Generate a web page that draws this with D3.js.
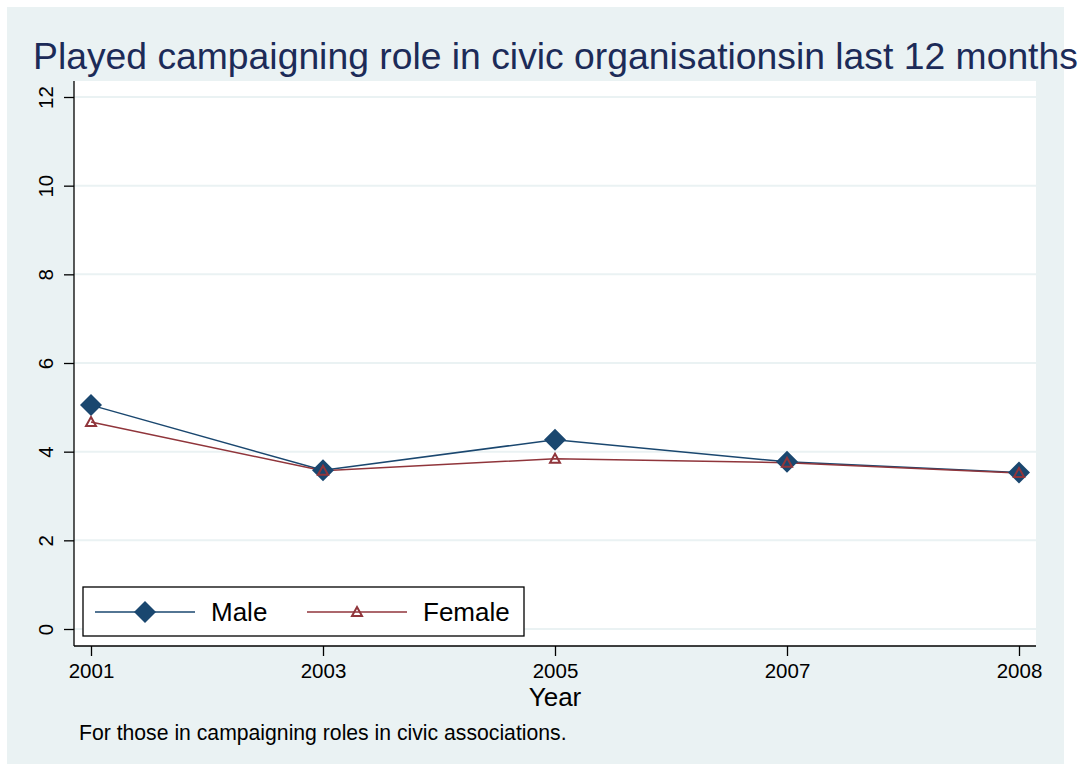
<!DOCTYPE html>
<html>
<head>
<meta charset="utf-8">
<script src="https://cdn.jsdelivr.net/npm/d3@7"></script>
<style>
  body { margin: 0; background: #fff; }
  text { font-family: "Liberation Sans", Arial, sans-serif; }
</style>
</head>
<body>
<div id="chart"></div>
<script>
let width = 1081,
    height = 771;

// data
let years = ["2001", "2003", "2005", "2007", "2008"];
let maleVals = [5.05, 3.58, 4.27, 3.77, 3.53];
let femaleVals = [4.67, 3.57, 3.84, 3.75, 3.52];
let yTicks = [0, 2, 4, 6, 8, 10, 12];

let male = '#1a476f';
let female = '#90353b';
let bg = '#eaf2f3';

let svg = d3.select("#chart")
    .append("svg")
    .attr("width", width)
    .attr("height", height);

// outer background
svg.append("rect")
    .attr("x", 7).attr("y", 7)
    .attr("width", 1057).attr("height", 757)
    .attr("fill", bg);

// plot region
let pl = 74, pr = 1036, pt = 81, pb = 646;
svg.append("rect")
    .attr("x", pl).attr("y", pt)
    .attr("width", pr - pl).attr("height", pb - pt)
    .attr("fill", "#fff");

let x = d3.scalePoint()
    .domain(years)
    .range([91, 1019]);

let y = d3.scaleLinear()
    .domain([0, 12])
    .range([629, 97]);

// grid
svg.append("g")
    .selectAll("line")
    .data(yTicks)
    .enter()
    .append("line")
    .attr("x1", pl).attr("x2", pr)
    .attr("y1", d => y(d)).attr("y2", d => y(d))
    .attr("stroke", bg)
    .attr("stroke-width", 2);

// y axis
let yAxis = svg.append("g")
    .attr("transform", "translate(" + pl + ",0)")
    .call(d3.axisLeft(y).tickValues(yTicks).tickSize(10).tickPadding(0).tickFormat(d3.format("d")));
yAxis.select(".domain").attr("d", "M0," + pt + "V" + pb).attr("stroke", "#000").attr("stroke-width", 1.3);
yAxis.selectAll(".tick line").attr("stroke", "#000").attr("stroke-width", 1.3);
yAxis.selectAll(".tick text")
    .attr("x", 0).attr("dy", null)
    .attr("transform", "translate(-29,0) rotate(-90)")
    .attr("text-anchor", "middle")
    .attr("dominant-baseline", "central")
    .style("font-size", "20.5px")
    .attr("fill", "#000");

// x axis
let xAxis = svg.append("g")
    .attr("transform", "translate(0," + pb + ")")
    .call(d3.axisBottom(x).tickSize(10).tickPadding(7));
xAxis.select(".domain").attr("d", "M" + pl + ",0H" + pr).attr("stroke", "#000").attr("stroke-width", 1.3);
xAxis.selectAll(".tick line").attr("stroke", "#000").attr("stroke-width", 1.3);
xAxis.selectAll(".tick text")
    .style("font-size", "20.5px")
    .attr("fill", "#000");

// lines
let line = d3.line()
    .x((d, i) => x(years[i]))
    .y(d => y(d));

svg.append("path")
    .datum(maleVals)
    .attr("d", line)
    .attr("fill", "none")
    .attr("stroke", male)
    .attr("stroke-width", 1.5);

svg.append("path")
    .datum(femaleVals)
    .attr("d", line)
    .attr("fill", "none")
    .attr("stroke", female)
    .attr("stroke-width", 1.5);

let diamond = "M0,-11L11,0L0,11L-11,0Z";
let triangle = "M0,-5L5,4L-5,4Z";

svg.append("g")
    .selectAll("path")
    .data(maleVals)
    .enter()
    .append("path")
    .attr("d", diamond)
    .attr("transform", (d, i) => "translate(" + x(years[i]) + "," + y(d) + ")")
    .attr("fill", male);

svg.append("g")
    .selectAll("path")
    .data(femaleVals)
    .enter()
    .append("path")
    .attr("d", triangle)
    .attr("transform", (d, i) => "translate(" + x(years[i]) + "," + y(d) + ")")
    .attr("fill", "none")
    .attr("stroke", female)
    .attr("stroke-width", 2);

// legend
let lg = svg.append("g");
lg.append("rect")
    .attr("x", 83).attr("y", 587)
    .attr("width", 441).attr("height", 49)
    .attr("fill", "#fff")
    .attr("stroke", "#000")
    .attr("stroke-width", 1.3);
lg.append("line").attr("x1", 95).attr("x2", 195).attr("y1", 612).attr("y2", 612)
    .attr("stroke", male).attr("stroke-width", 1.5);
lg.append("path").attr("d", diamond).attr("transform", "translate(145,612)").attr("fill", male);
lg.append("text").attr("x", 211).attr("y", 621).text("Male")
    .style("font-size", "26px").attr("fill", "#000");
lg.append("line").attr("x1", 307).attr("x2", 407).attr("y1", 612).attr("y2", 612)
    .attr("stroke", female).attr("stroke-width", 1.5);
lg.append("path").attr("d", triangle).attr("transform", "translate(357,612)")
    .attr("fill", "none").attr("stroke", female).attr("stroke-width", 2);
lg.append("text").attr("x", 423).attr("y", 621).text("Female")
    .style("font-size", "26px").attr("fill", "#000");

// titles
svg.append("text")
    .attr("x", 33).attr("y", 69)
    .text("Played campaigning role in civic organisationsin last 12 months")
    .style("font-size", "37.3px")
    .attr("fill", "#1c2b58");

svg.append("text")
    .attr("x", 555).attr("y", 706)
    .attr("text-anchor", "middle")
    .text("Year")
    .style("font-size", "26px")
    .attr("fill", "#000");

svg.append("text")
    .attr("x", 79).attr("y", 740)
    .text("For those in campaigning roles in civic associations.")
    .style("font-size", "21.2px")
    .attr("fill", "#000");
</script>
</body>
</html>
